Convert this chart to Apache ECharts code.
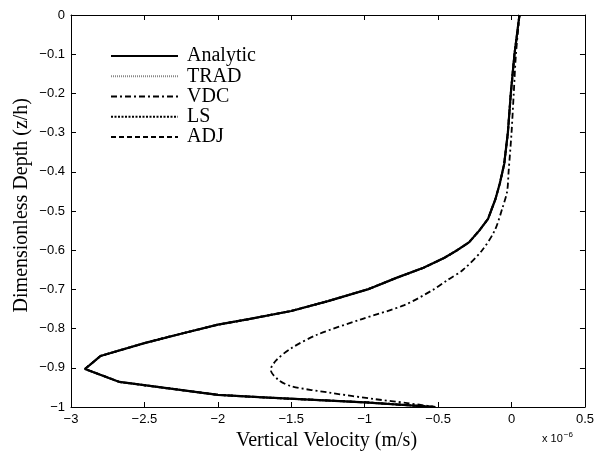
<!DOCTYPE html>
<html>
<head>
<meta charset="utf-8">
<script src="https://cdn.jsdelivr.net/npm/echarts@6/dist/echarts.min.js"></script>
<style>
  html, body { margin: 0; padding: 0; background: #fff; }
  #chart { width: 597px; height: 457px; }
</style>
</head>
<body>
<div id="chart"></div>
<script>
// 速度单位 1e-6 m/s，深度为 z/h
const analyticDepth = [0, -0.1, -0.2, -0.3, -0.38, -0.43, -0.47, -0.52, -0.55, -0.58, -0.6, -0.62, -0.645, -0.67, -0.7, -0.73, -0.755, -0.776, -0.79, -0.813, -0.837, -0.87, -0.903, -0.936, -0.969, -0.975, -0.988, -1.0];
const analyticVel   = [0.054, 0.02, -0.005, -0.025, -0.05, -0.08, -0.11, -0.16, -0.22, -0.29, -0.37, -0.46, -0.6, -0.78, -0.98, -1.25, -1.5, -1.79, -2.0, -2.25, -2.5, -2.8, -2.905, -2.67, -2.0, -1.72, -1.0, -0.52];

const vdcDepth = [0, -0.1, -0.2, -0.3, -0.4, -0.45, -0.49, -0.55, -0.6, -0.65, -0.677, -0.7, -0.74, -0.777, -0.815, -0.85, -0.88, -0.905, -0.93, -0.947, -0.964, -0.98, -0.99, -1.0];
const vdcVel   = [0.054, 0.03, 0.015, 0.0, -0.02, -0.03, -0.06, -0.115, -0.2, -0.33, -0.44, -0.53, -0.73, -1.03, -1.32, -1.5, -1.6, -1.64, -1.59, -1.5, -1.23, -0.93, -0.71, -0.52];

const legendNames = ['Analytic', 'TRAD', 'VDC', 'LS', 'ADJ'];
const xTicks = { min: -3, max: 0.5, step: 0.5 };
const yTicks = { min: -1, max: 0, step: 0.1 };

const pairs = (xs, ys) => xs.map((x, i) => [x, ys[i]]);
const minus = (v) => String(+v.toFixed(2)).replace('-', '\u2212');

const serif = '"Liberation Serif", "DejaVu Serif", serif';
const sans = '"Liberation Sans", Arial, sans-serif';

function axis(pos, show, r) {
  return {
    type: 'value',
    position: pos,
    min: r.min, max: r.max, interval: r.step,
    axisLine: { show: true, onZero: false, lineStyle: { color: '#000', width: 1 } },
    axisTick: { show: true, inside: true, length: 5, lineStyle: { color: '#000' } },
    splitLine: { show: false },
    axisLabel: { show: show, color: '#000', fontFamily: sans, fontSize: 13, margin: 6, formatter: minus },
  };
}

const chart = echarts.init(document.getElementById('chart'));
chart.setOption({
  animation: false,
  backgroundColor: '#fff',
  grid: { left: 71, right: 8, top: 15, bottom: 50 },
  legend: {
    orient: 'vertical',
    left: 105, top: 41,
    data: legendNames,
    itemWidth: 67, itemHeight: 19, itemGap: 0.25,
    itemStyle: { opacity: 0 },
    textStyle: { fontFamily: serif, fontSize: 20, color: '#000', padding: [0, 0, 0, 4], lineHeight: 19 },
  },
  xAxis: [axis('bottom', true, xTicks), axis('top', false, xTicks)],
  yAxis: [axis('left', true, yTicks), axis('right', false, yTicks)],
  graphic: [
    { type: 'text', left: 236, top: 431, style: { text: 'Vertical Velocity (m/s)', font: '20px ' + serif, fill: '#000' } },
    { type: 'text', left: 12, top: 98, rotation: Math.PI / 2, style: { text: 'Dimensionless Depth (z/h)', font: '20px ' + serif, fill: '#000' } },
    { type: 'text', left: 542, top: 431, style: { text: 'x 10{s|\u22126}', font: '11px ' + sans, fill: '#000', rich: { s: { fontSize: 8, verticalAlign: 'top', padding: [0, 0, 8, 1] } } } },
  ],
  series: [
    // TRAD / LS / ADJ 与解析解重合，压在下面
    { name: 'TRAD', type: 'line', symbol: 'none', z: 1, color: '#888', data: pairs(analyticVel, analyticDepth),
      lineStyle: { color: '#888', width: 1, type: [1, 1] } },
    { name: 'LS', type: 'line', symbol: 'none', z: 1, color: '#000', data: pairs(analyticVel, analyticDepth),
      lineStyle: { color: '#000', width: 2, type: [2, 1.5] } },
    { name: 'ADJ', type: 'line', symbol: 'none', z: 1, color: '#000', data: pairs(analyticVel, analyticDepth),
      lineStyle: { color: '#000', width: 2, type: [5, 3] } },
    { name: 'VDC', type: 'line', symbol: 'none', z: 2, color: '#000', smooth: 0.3, data: pairs(vdcVel, vdcDepth),
      lineStyle: { color: '#000', width: 1.8, type: [6, 3, 2, 3] } },
    { name: 'Analytic', type: 'line', symbol: 'none', z: 3, color: '#000', data: pairs(analyticVel, analyticDepth),
      lineStyle: { color: '#000', width: 2.2 } },
  ],
});
</script>
</body>
</html>
